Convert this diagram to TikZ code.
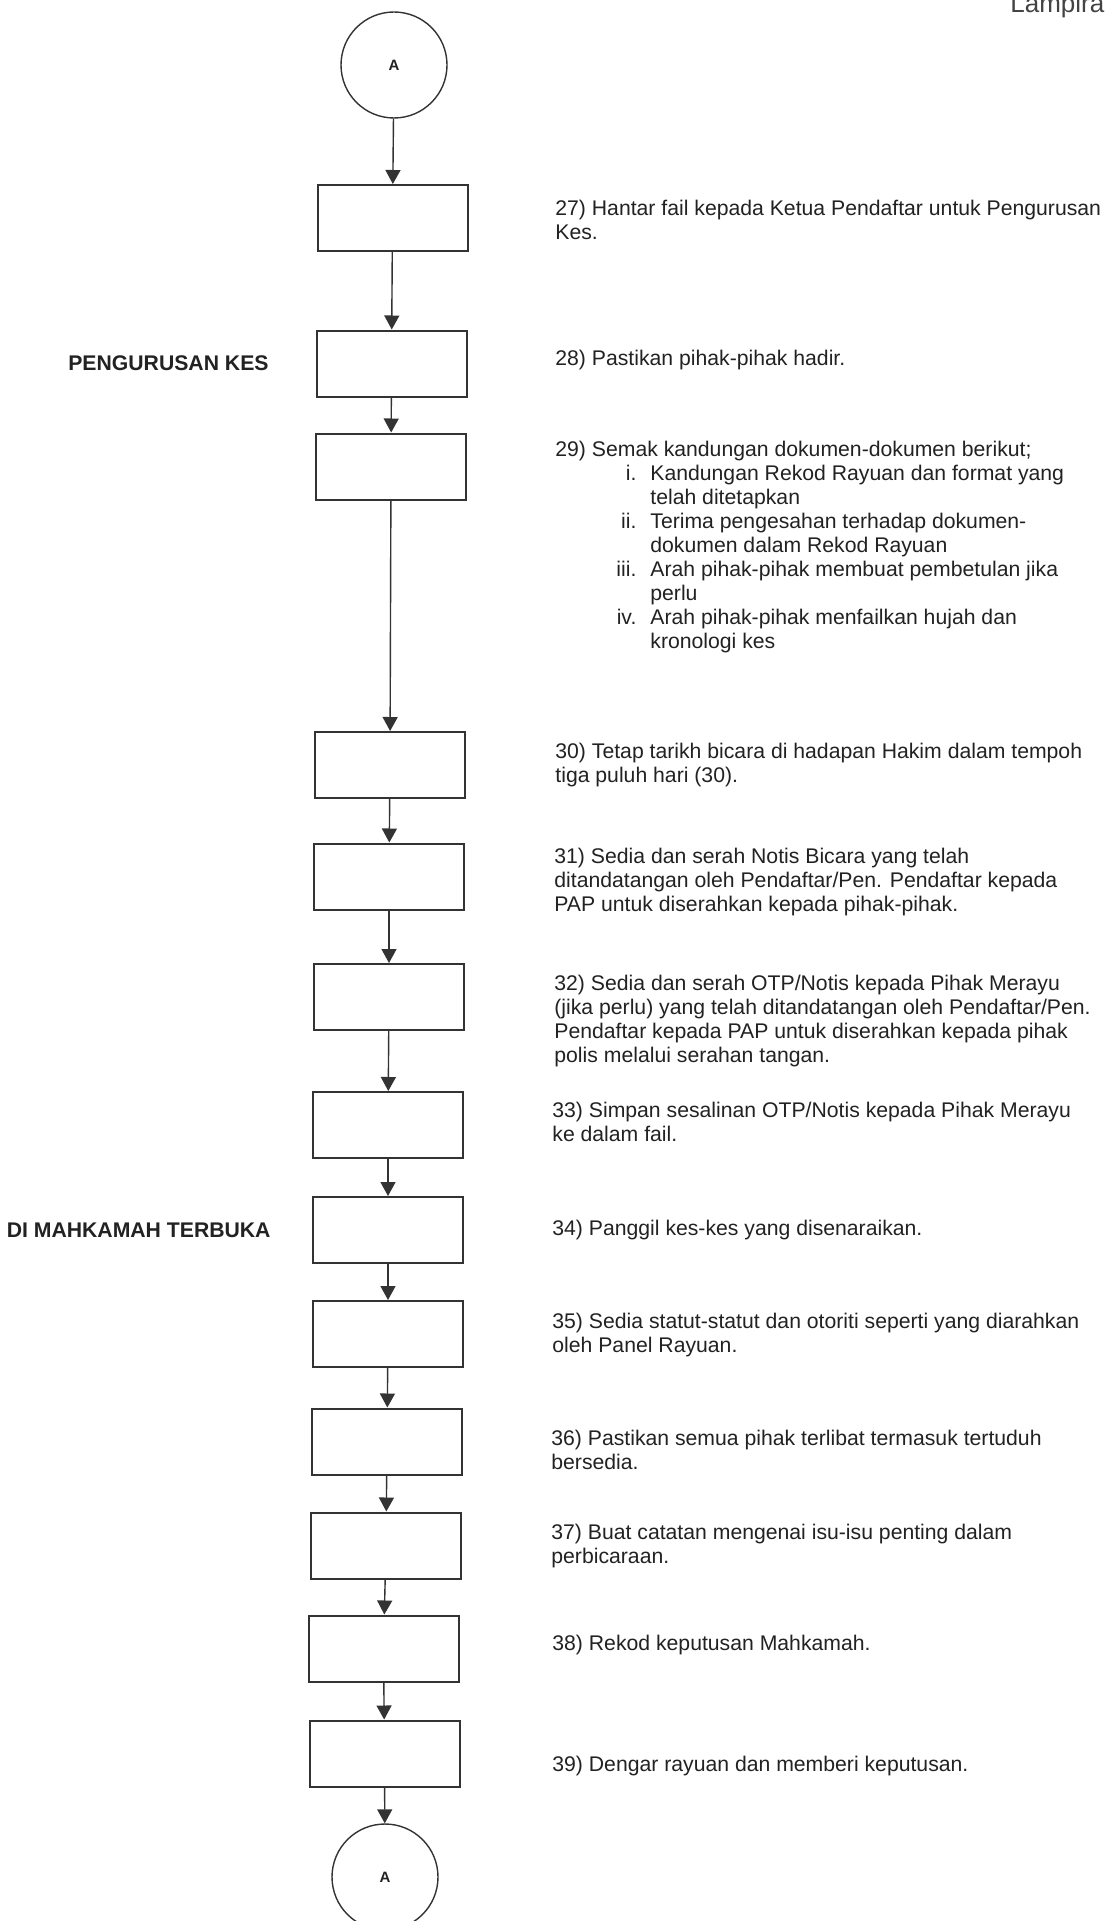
\documentclass[tikz,border=0pt]{standalone}
\usepackage{fontspec}
\setmainfont{Liberation Sans}
\usetikzlibrary{arrows.meta}
\definecolor{ink}{HTML}{222222}
\definecolor{lineclr}{HTML}{333333}
\begin{document}
\begin{tikzpicture}[x=0.5pt,y=-0.5pt,
  stepbox/.style={draw=lineclr,line width=1pt,minimum width=75pt,minimum height=33pt,inner sep=0pt},
  conn/.style={draw=lineclr,line width=0.7pt,circle,minimum size=53pt,inner sep=0pt,font=\fontsize{7.5}{9}\selectfont\bfseries,text=ink},
  flow/.style={draw=lineclr,line width=0.7pt,-{Triangle[length=7pt,width=7.5pt]}},
  desc/.style={anchor=west,align=left,inner sep=0pt,text=ink,font=\fontsize{10.6}{12}\selectfont},
  phase/.style={anchor=east,inner sep=0pt,text=ink,font=\fontsize{10.6}{12}\selectfont\bfseries},
  corner/.style={anchor=base west,inner sep=0pt,text=ink!85,font=\fontsize{13}{15}\selectfont}]
\useasboundingbox (0,0) rectangle (1106,1921);
\clip (0,0) rectangle (1106,1921);
\fill[white] (0,0) rectangle (1106,1921);

\node[corner] (lamp) at (1010,13) {Lampiran};

% connectors (circles)
\node[conn] (c1) at (394,65) {A};
\node[conn] (c2) at (385,1877) {A};

% boxes
\node[stepbox] (b1) at (392.5,218) {};
\node[stepbox] (b2) at (391.5,363.5) {};
\node[stepbox] (b3) at (391,466.5) {};
\node[stepbox] (b4) at (390,765) {};
\node[stepbox] (b5) at (389,876.5) {};
\node[stepbox] (b6) at (389,997) {};
\node[stepbox] (b7) at (388,1125) {};
\node[stepbox] (b8) at (388,1230) {};
\node[stepbox] (b9) at (388,1334) {};
\node[stepbox] (b10) at (387,1441.5) {};
\node[stepbox] (b11) at (386,1545.5) {};
\node[stepbox] (b12) at (383.5,1648.5) {};
\node[stepbox] (b13) at (384.5,1753.5) {};

% arrows
\draw[flow] (c1) -- (b1);
\draw[flow] (b1) -- (b2);
\draw[flow] (b2) -- (b3);
\draw[flow] (b3) -- (b4);
\draw[flow] (b4) -- (b5);
\draw[flow] (b5) -- (b6);
\draw[flow] (b6) -- (b7);
\draw[flow] (b7) -- (b8);
\draw[flow] (b8) -- (b9);
\draw[flow] (b9) -- (b10);
\draw[flow] (b10) -- (b11);
\draw[flow] (b11) -- (b12);
\draw[flow] (b12) -- (b13);
\draw[flow] (b13) -- (c2);

% phase labels
\node[phase] (p1) at (269,363.5) {PENGURUSAN KES};
\node[phase] (p2) at (271,1230) {DI MAHKAMAH TERBUKA};

% descriptions
\node[desc] (t27) at (555,220) {27) Hantar fail kepada Ketua Pendaftar untuk Pengurusan\\Kes.};
\node[desc] (t28) at (555,360) {28) Pastikan pihak-pihak hadir.};
\node[desc] (t29) at (555,547.5) {29) Semak kandungan dokumen-dokumen berikut;\\
\makebox[40.5pt][r]{i.}\hspace{7pt}Kandungan Rekod Rayuan dan format yang\\
\hspace{47.5pt}telah ditetapkan\\
\makebox[40.5pt][r]{ii.}\hspace{7pt}Terima pengesahan terhadap dokumen-\\
\hspace{47.5pt}dokumen dalam Rekod Rayuan\\
\makebox[40.5pt][r]{iii.}\hspace{7pt}Arah pihak-pihak membuat pembetulan jika\\
\hspace{47.5pt}perlu\\
\makebox[40.5pt][r]{iv.}\hspace{7pt}Arah pihak-pihak menfailkan hujah dan\\
\hspace{47.5pt}kronologi kes};
\node[desc] (t30) at (555,765.5) {30) Tetap tarikh bicara di hadapan Hakim dalam tempoh\\tiga puluh hari (30).};
\node[desc] (t31) at (554,882.5) {31) Sedia dan serah Notis Bicara yang telah\\ditandatangan oleh Pendaftar/Pen. Pendaftar kepada\\PAP untuk diserahkan kepada pihak-pihak.};
\node[desc] (t32) at (554,1021.5) {32) Sedia dan serah OTP/Notis kepada Pihak Merayu\\(jika perlu) yang telah ditandatangan oleh Pendaftar/Pen.\\Pendaftar kepada PAP untuk diserahkan kepada pihak\\polis melalui serahan tangan.};
\node[desc] (t33) at (552,1121.5) {33) Simpan sesalinan OTP/Notis kepada Pihak Merayu\\ke dalam fail.};
\node[desc] (t34) at (552,1230) {34) Panggil kes-kes yang disenaraikan.};
\node[desc] (t35) at (552,1335) {35) Sedia statut-statut dan otoriti seperti yang diarahkan\\oleh Panel Rayuan.};
\node[desc] (t36) at (551,1450) {36) Pastikan semua pihak terlibat termasuk tertuduh\\bersedia.};
\node[desc] (t37) at (551,1546) {37) Buat catatan mengenai isu-isu penting dalam\\perbicaraan.};
\node[desc] (t38) at (552,1645) {38) Rekod keputusan Mahkamah.};
\node[desc] (t39) at (552,1766) {39) Dengar rayuan dan memberi keputusan.};
\end{tikzpicture}
\end{document}
